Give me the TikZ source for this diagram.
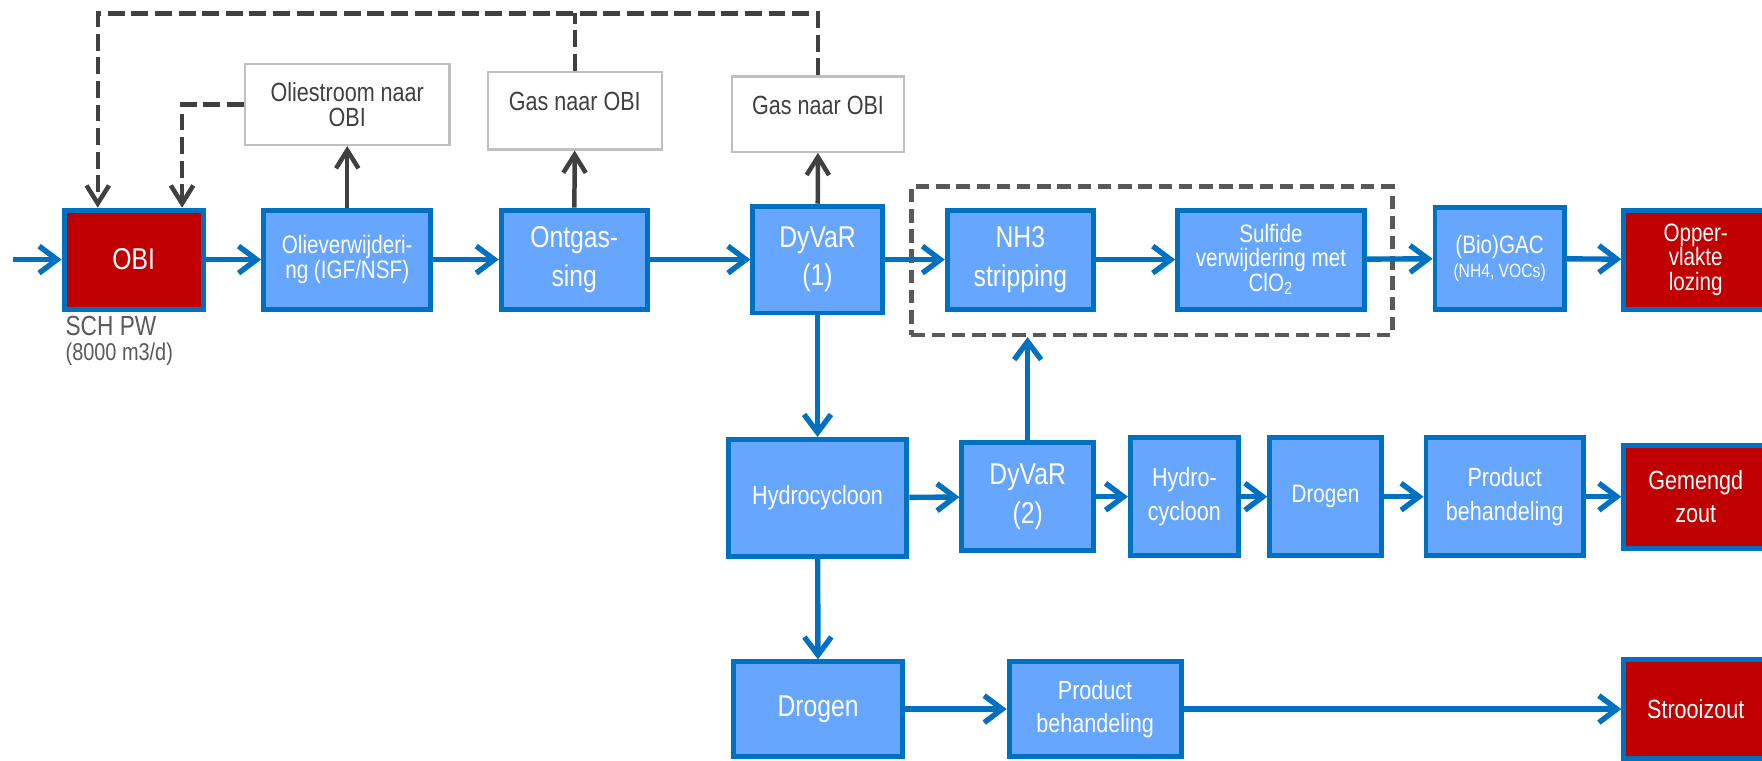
\documentclass[tikz,border=0pt]{standalone}
\usepackage{fontspec}
\setmainfont[FakeStretch=0.82]{Liberation Sans}
\usetikzlibrary{arrows.meta}

\definecolor{pipeblue}{RGB}{0,112,192}
\definecolor{procfill}{RGB}{102,166,255}
\definecolor{sinkred}{RGB}{192,0,0}
\definecolor{ventgray}{RGB}{64,64,64}
\definecolor{notegray}{RGB}{191,191,191}
\definecolor{framegray}{RGB}{89,89,89}
\definecolor{labelgray}{RGB}{89,89,89}

\begin{document}
\begin{tikzpicture}
[
    x=0.5pt, y=-0.5pt,
    proc/.style={draw=pipeblue, fill=procfill, line width=2.2pt, text=white, align=center, inner sep=1pt},
    sink/.style={proc, fill=sinkred},
    note/.style={draw=notegray, fill=white, line width=1pt, text=ventgray, align=center, inner sep=1pt},
    txtbig/.style={font=\fontsize{13.4}{17}\selectfont},
    txtmid/.style={font=\fontsize{11.7}{14.8}\selectfont},
    txtsml/.style={font=\fontsize{11.2}{10.8}\selectfont},
    txtnote/.style={font=\fontsize{11.7}{11}\selectfont},
    flow/.style={draw=pipeblue, line width=2.4pt, -{Straight Barb[length=8pt,width=12pt]}},
    vent/.style={draw=ventgray, line width=2pt, -{Straight Barb[length=8pt,width=10pt]}},
    feedback/.style={vent, dash pattern=on 7.5pt off 3pt},
]
\useasboundingbox (0,0) rectangle (1568,677);

% main line
\coordinate (feed) at (12,231);
\node[sink, txtbig, minimum width=62pt, minimum height=44pt] (obi) at (119,231) {OBI};
\node[proc, txtsml, minimum width=74.5pt, minimum height=44pt] (olie) at (309,231) {Olieverwijderi-\\ng (IGF/NSF)};
\node[proc, txtbig, minimum width=65pt, minimum height=44pt] (ontgas) at (511,231) {Ontgas-\\sing};
\node[proc, txtbig, minimum width=57.5pt, minimum height=47.5pt] (dyvarA) at (727.5,231) {DyVaR\\(1)};
\node[proc, txtbig, minimum width=65pt, minimum height=44pt] (nhstrip) at (908,231) {NH3\\stripping};
\node[proc, txtsml, minimum width=83pt, minimum height=44pt] (sulfide) at (1131,231) {Sulfide\\verwijdering met\\ClO\textsubscript{2}};
\node[proc, txtsml, minimum width=57.5pt, minimum height=45.75pt] (gac) at (1334.5,230) {(Bio)GAC\\{\fontsize{8.5}{10}\selectfont (NH4, VOCs)}};
\node[sink, txtsml, minimum width=64pt, minimum height=44pt] (opper) at (1509,231) {Opper-\\vlakte\\lozing};
\node[draw=framegray, line width=2pt, dash pattern=on 6pt off 3pt, minimum width=214pt, minimum height=66pt] (stripzone) at (1025,232) {};

\node[anchor=north west, align=left, inner sep=0pt, text=labelgray, font=\fontsize{12.3}{14}\selectfont] (pwlabel) at (58,281) {SCH PW\\[-3pt]{\fontsize{10.8}{12}\selectfont (8000 m3/d)}};

% side streams to OBI
\node[note, txtnote, minimum width=91pt, minimum height=36pt] (oilout) at (309,93) {Oliestroom naar\\OBI};
\node[note, txtnote, text depth=8pt, minimum width=77.5pt, minimum height=34.5pt] (gasA) at (511.5,98.5) {Gas naar OBI};
\node[note, txtnote, text depth=8pt, minimum width=76.5pt, minimum height=33.5pt] (gasB) at (728,101.5) {Gas naar OBI};
\coordinate (ret) at (87,12);

% salt lines
\node[proc, txtmid, minimum width=79.5pt, minimum height=52pt] (cycA) at (727.5,443) {Hydrocycloon};
\node[proc, txtbig, minimum width=58.5pt, minimum height=48pt] (dyvarB) at (914.5,442) {DyVaR\\(2)};
\node[proc, txtmid, minimum width=48pt, minimum height=52.5pt] (cycB) at (1054,442) {Hydro-\\cycloon};
\node[proc, txtsml, minimum width=49.5pt, minimum height=52.5pt] (dryA) at (1179.5,442) {Drogen};
\node[proc, txtmid, minimum width=70pt, minimum height=52.5pt] (prodA) at (1339,442) {Product\\behandeling};
\node[sink, txtmid, minimum width=64pt, minimum height=45.75pt] (mixsalt) at (1509,442) {Gemengd\\zout};

\node[proc, txtbig, minimum width=75pt, minimum height=42pt] (dryB) at (728,631) {Drogen};
\node[proc, txtmid, minimum width=76.5pt, minimum height=42pt] (prodB) at (974.5,631) {Product\\behandeling};
\node[sink, txtmid, minimum width=64pt, minimum height=43.75pt] (roadsalt) at (1509,631) {Strooizout};

% connectors
\draw[flow] (feed) -- (obi);
\draw[flow] (obi) -- (olie);
\draw[flow] (olie) -- (ontgas);
\draw[flow] (ontgas) -- (dyvarA);
\draw[flow] (dyvarA) -- (nhstrip);
\draw[flow] (nhstrip) -- (sulfide);
\draw[flow] (sulfide) -- (gac);
\draw[flow] (gac) -- (opper);
\draw[flow] (dyvarA) -- (cycA);
\draw[flow] (cycA) -- (dyvarB);
\draw[flow] (dyvarB) -- (cycB);
\draw[flow] (cycB) -- (dryA);
\draw[flow] (dryA) -- (prodA);
\draw[flow] (prodA) -- (mixsalt);
\draw[flow] (dyvarB) -- (dyvarB |- stripzone.south);
\draw[flow] (cycA) -- (dryB);
\draw[flow] (dryB) -- (prodB);
\draw[flow] (prodB) -- (roadsalt);

\draw[vent] (olie) -- (oilout);
\draw[vent] (ontgas) -- (gasA);
\draw[vent] (dyvarA) -- (gasB);
\draw[feedback] (gasB.north) |- (ret) -- (ret |- obi.north);
\draw[feedback, -] (gasA.north) -- (gasA.north |- ret);
\draw[feedback] (oilout.west) -| (obi.north -| 162,0);
\end{tikzpicture}
\end{document}
